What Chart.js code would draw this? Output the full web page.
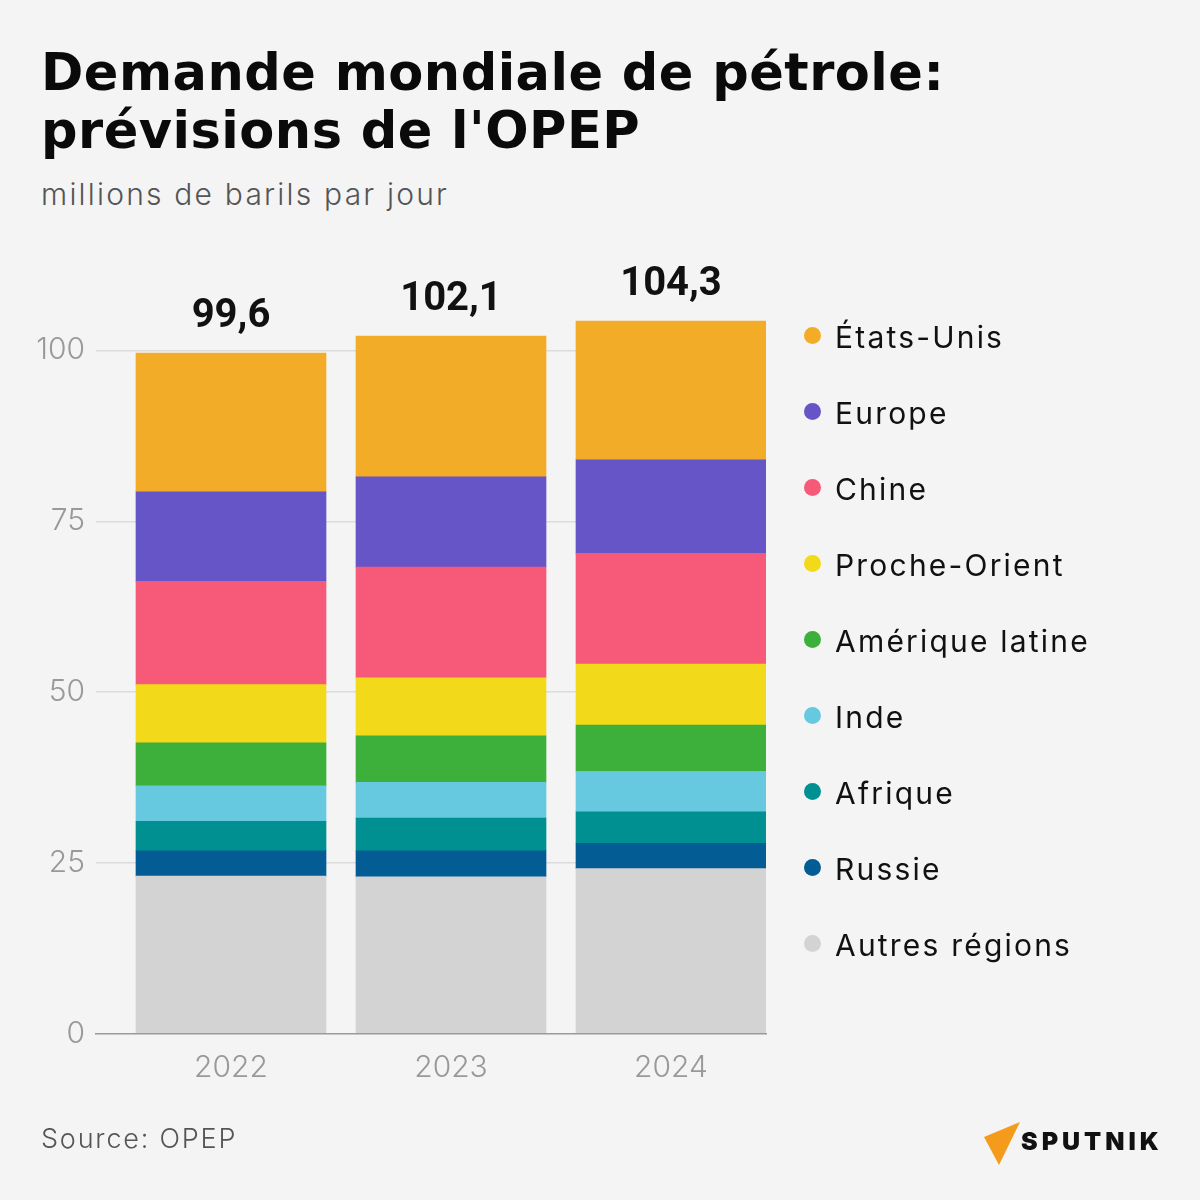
<!DOCTYPE html>
<html lang="fr">
<head>
<meta charset="utf-8">
<title>Demande mondiale de pétrole</title>
<script src="https://cdn.jsdelivr.net/npm/chart.js@4.4.1/dist/chart.umd.min.js"></script>
<style>
  html, body { margin: 0; padding: 0; }
  body { width: 1200px; height: 1200px; background: #f4f4f4; position: relative; overflow: hidden; font-family: "Inter", "Noto Sans", sans-serif; }
  #chart { position: absolute; left: 0; top: 0; }
  .title { position: absolute; left: 41px; top: 44px; font-family: "DejaVu Sans", sans-serif; font-size: 51px; line-height: 58px; font-weight: bold; color: #0a0a0a; letter-spacing: 0.5px; }
  .subtitle { position: absolute; left: 41px; top: 176px; font-size: 30px; line-height: 36px; font-weight: 300; color: #555; letter-spacing: 2.2px; }
  .source { position: absolute; left: 41px; top: 1122px; font-size: 27px; line-height: 34px; font-weight: 300; color: #555; letter-spacing: 1.8px; }
  #legend { position: absolute; left: 804px; top: 299px; margin: 0; padding: 0; list-style: none; }
  #legend li { position: relative; height: 76px; line-height: 76px; font-size: 30px; color: #111; padding-left: 31px; white-space: nowrap; letter-spacing: 2.2px; }
  #legend li span { position: absolute; left: 0; top: 28px; width: 17px; height: 17px; border-radius: 50%; }
  .logo { position: absolute; left: 982px; top: 1118px; }
</style>
</head>
<body>
<div class="title">Demande mondiale de pétrole:<br>prévisions de l'OPEP</div>
<div class="subtitle">millions de barils par jour</div>
<canvas id="chart" width="1200" height="1200"></canvas>
<ul id="legend"></ul>
<div class="source">Source: OPEP</div>
<svg class="logo" width="200" height="52" viewBox="0 0 200 52">
  <polygon points="2,19 38,4 17,47" fill="#f59b1c"/>
  <text x="39" y="32" font-family="Inter, sans-serif" font-weight="900" font-size="25" fill="#111" letter-spacing="4">SPUTNIK</text>
</svg>
<script>
// values, millions of barrels per day
const years = [2022, 2023, 2024];
const autresRegions = [23.1, 23.0, 24.2];
const russie = [3.7, 3.8, 3.7];
const afrique = [4.3, 4.8, 4.6];
const inde = [5.2, 5.2, 5.9];
const ameriqueLatine = [6.3, 6.8, 6.8];
const procheOrient = [8.5, 8.5, 8.9];
const chine = [15.1, 16.2, 16.2];
const europe = [13.1, 13.2, 13.7];
const etatsUnis = [20.3, 20.6, 20.3];
const yTicks = [0, 25, 50, 75, 100];

// bottom of the stack first
const series = [
  { label: "Autres régions", data: autresRegions, color: "#d3d3d3" },
  { label: "Russie", data: russie, color: "#035c94" },
  { label: "Afrique", data: afrique, color: "#009091" },
  { label: "Inde", data: inde, color: "#66c9df" },
  { label: "Amérique latine", data: ameriqueLatine, color: "#3db03b" },
  { label: "Proche-Orient", data: procheOrient, color: "#f2da1b" },
  { label: "Chine", data: chine, color: "#f75a78" },
  { label: "Europe", data: europe, color: "#6655c6" },
  { label: "États-Unis", data: etatsUnis, color: "#f2ac27" },
];

// legend, top of the stack first
const legend = document.getElementById("legend");
series.slice().reverse().forEach((s) => {
  const li = document.createElement("li");
  const dot = document.createElement("span");
  dot.style.background = s.color;
  li.appendChild(dot);
  li.appendChild(document.createTextNode(s.label));
  legend.appendChild(li);
});

const totals = years.map((_, i) => series.reduce((sum, s) => sum + s.data[i], 0));

// total above each bar
const totalLabels = {
  id: "totalLabels",
  afterDatasetsDraw(chart) {
    const ctx = chart.ctx;
    const meta = chart.getDatasetMeta(series.length - 1);
    ctx.save();
    ctx.font = "bold 40px Roboto, 'Liberation Sans', sans-serif";
    ctx.fillStyle = "#111";
    ctx.textAlign = "center";
    ctx.textBaseline = "alphabetic";
    meta.data.forEach((bar, i) => {
      ctx.fillText(totals[i].toFixed(1).replace(".", ","), bar.x, bar.y - 26);
    });
    ctx.restore();
  },
};

const ctx = document.getElementById("chart").getContext("2d");
new Chart(ctx, {
  type: "bar",
  data: {
    labels: years,
    datasets: series.map((s) => ({
      label: s.label,
      data: s.data,
      backgroundColor: s.color,
      borderWidth: 0,
      barThickness: 190,
    })),
  },
  options: {
    responsive: false,
    animation: false,
    layout: { padding: { left: 0, right: 434, top: 282, bottom: 116 } },
    plugins: { legend: { display: false }, tooltip: { enabled: false } },
    scales: {
      x: {
        type: "linear",
        stacked: true,
        offset: false,
        min: 2022 - 135 / 220,
        max: 2024 + 95 / 220,
        afterBuildTicks: (scale) => { scale.ticks = years.map((v) => ({ value: v })); },
        afterFit: (scale) => { scale.height = 50; },
        grid: { display: false, drawTicks: false, offset: false },
        border: { display: true, color: "#9a9a9a", width: 1.5, z: 1 },
        ticks: {
          padding: 16,
          color: "#999",
          font: { family: "Inter", size: 30, weight: 300 },
          callback: (v) => String(v),
        },
      },
      y: {
        stacked: true,
        min: 0,
        max: 110,
        afterBuildTicks: (scale) => { scale.ticks = yTicks.map((v) => ({ value: v })); },
        afterFit: (scale) => { scale.width = 96; },
        grid: {
          drawTicks: false,
          color: (c) => (c.tick && c.tick.value === 0 ? "rgba(0,0,0,0)" : "#dcdcdc"),
          lineWidth: 1.5,
        },
        border: { display: false },
        ticks: {
          padding: 11,
          color: "#999",
          font: { family: "Inter", size: 30, weight: 300 },
        },
      },
    },
  },
  plugins: [totalLabels],
});
</script>
</body>
</html>
